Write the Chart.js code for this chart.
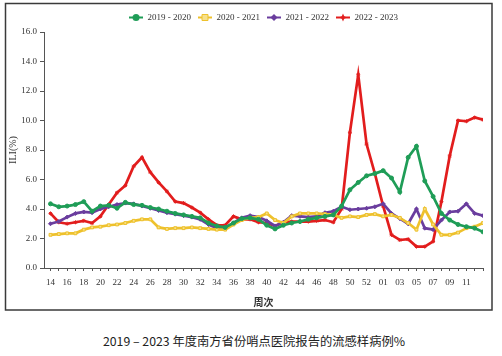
<!DOCTYPE html>
<html>
<head>
<meta charset="utf-8">
<script src="https://cdn.jsdelivr.net/npm/chart.js@4/dist/chart.umd.min.js"></script>
<style>
  html,body{margin:0;padding:0;background:#fff;}
  #wrap{position:relative;width:502px;height:356px;overflow:hidden;}
  #c{position:absolute;left:0;top:0;}
  #cap{position:absolute;left:3px;width:502px;top:333px;text-align:center;
       font-family:"Noto Sans CJK SC","Noto Sans",sans-serif;font-size:12.3px;color:#222;line-height:16px;}
</style>
</head>
<body>
<div id="wrap">
  <canvas id="c" width="502" height="316"></canvas>
  <div id="cap">2019 – 2023 年度南方省份哨点医院报告的流感样病例%</div>
</div>
<script>
// Week labels (season runs week 14 to week 13 of next year)
const weeks = ['14','15','16','17','18','19','20','21','22','23','24','25','26','27','28','29','30','31','32','33',
  '34','35','36','37','38','39','40','41','42','43','44','45','46','47','48','49','50','51','52','53',
  '01','02','03','04','05','06','07','08','09','10','11','12','13'];

const seriesNames = ['2019 - 2020','2020 - 2021','2021 - 2022','2022 - 2023'];

const s2019 = [4.35,4.15,4.2,4.3,4.5,3.85,4.2,4.25,4.05,4.45,4.3,4.25,4.1,4.0,3.85,3.7,3.6,3.5,3.4,3.05,
  2.85,2.75,3.05,3.35,3.4,3.3,2.9,2.65,2.9,3.05,3.15,3.3,3.4,3.5,3.6,4.2,5.3,5.8,6.25,6.4,
  6.6,6.1,5.15,7.5,8.25,5.9,4.85,3.7,3.25,2.95,2.8,2.7,2.45];

const s2020 = [2.25,2.3,2.35,2.35,2.6,2.75,2.8,2.9,2.95,3.05,3.2,3.3,3.3,2.75,2.65,2.7,2.7,2.75,2.7,2.65,
  2.6,2.6,2.95,3.25,3.4,3.45,3.7,3.25,3.05,3.5,3.7,3.7,3.7,3.65,3.6,3.4,3.5,3.45,3.6,3.65,
  3.5,3.6,3.4,3.05,2.6,4.0,2.95,2.25,2.25,2.4,2.7,2.8,3.05];

const s2021 = [3.0,3.15,3.45,3.7,3.8,3.75,4.0,4.15,4.3,4.4,4.35,4.2,4.05,3.9,3.75,3.65,3.55,3.45,3.3,2.95,
  2.7,2.7,3.05,3.4,3.55,3.45,3.2,2.85,3.1,3.55,3.5,3.45,3.5,3.75,3.85,4.15,3.95,4.0,4.05,4.15,
  4.35,3.7,3.35,3.0,4.0,2.7,2.6,3.25,3.8,3.85,4.35,3.7,3.55];

const s2022 = [3.7,3.1,3.0,3.1,3.2,3.05,3.5,4.3,5.1,5.6,6.9,7.5,6.5,5.8,5.2,4.5,4.4,4.1,3.75,3.3,
  2.9,2.9,3.5,3.3,3.3,3.1,3.05,2.85,3.1,3.15,3.15,3.15,3.2,3.25,3.1,4.0,9.2,13.1,8.4,6.4,
  4.2,2.25,1.9,1.95,1.45,1.45,1.8,4.5,7.6,10.0,9.95,10.2,10.05];

const yTicks = [0,2,4,6,8,10,12,14,16];

const colors = ['#1f9d57','#eec12c','#6a3d9e','#e21d1d'];
const fills  = ['#1f9d57','#f6e08c','#6a3d9e','#e21d1d'];
const styles = ['circle','rect','rectRot','star'];
const allData = [s2019,s2020,s2021,s2022];

function legendIcon(i){
  const cv = document.createElement('canvas');
  cv.width = 14; cv.height = 9;
  const g = cv.getContext('2d');
  g.strokeStyle = colors[i]; g.lineWidth = 2;
  g.beginPath(); g.moveTo(0,4.5); g.lineTo(14,4.5); g.stroke();
  g.fillStyle = fills[i]; g.strokeStyle = colors[i]; g.lineWidth = 1;
  const cx = 7, cy = 4.5;
  g.beginPath();
  if (i===0){ g.arc(cx,cy,3.5,0,Math.PI*2); g.fill(); }
  else if (i===1){ g.rect(cx-3,cy-3,6,6); g.fill(); g.stroke(); }
  else if (i===2){ g.moveTo(cx,cy-3.5); g.lineTo(cx+3.5,cy); g.lineTo(cx,cy+3.5); g.lineTo(cx-3.5,cy); g.closePath(); g.fill(); }
  else { g.moveTo(cx,cy-4); g.lineTo(cx+1.2,cy-1.2); g.lineTo(cx+4,cy); g.lineTo(cx+1.2,cy+1.2); g.lineTo(cx,cy+4);
         g.lineTo(cx-1.2,cy+1.2); g.lineTo(cx-4,cy); g.lineTo(cx-1.2,cy-1.2); g.closePath(); g.fill(); }
  return cv;
}
const icons = [0,1,2,3].map(legendIcon);

const datasets = allData.map((arr,i)=>({
  label: seriesNames[i],
  data: arr.map((v,k)=>({x:k,y:v})),
  borderColor: colors[i],
  backgroundColor: fills[i],
  pointBackgroundColor: fills[i],
  pointBorderColor: colors[i],
  pointStyle: styles[i],
  pointRadius: 2,
  pointBorderWidth: 1,
  borderWidth: 2.7,
  tension: 0,
  fill: false
}));

const serif = "'Liberation Serif','DejaVu Serif',serif";

const framePlugin = {
  id:'frame',
  afterDraw(chart){
    const c = chart.ctx;
    c.save();
    c.strokeStyle = '#3a3a3a'; c.lineWidth = 1.5;
    c.strokeRect(5.5,3.5,486.5,306.5);
    c.restore();
  }
};

new Chart(document.getElementById('c'), {
  type:'line',
  data:{ datasets },
  options:{
    responsive:false,
    animation:false,
    layout:{ padding:{ left:5, right:19, top:6, bottom:8 } },
    plugins:{
      tooltip:{enabled:false},
      legend:{
        display:true,
        position:'top',
        fullSize:false,
        labels:{
          usePointStyle:true,
          pointStyleWidth:14,
          boxHeight:9,
          padding:7,
          color:'#333',
          font:{family:serif,size:9},
          generateLabels(chart){
            return chart.data.datasets.map((d,i)=>({
              text:d.label, pointStyle:icons[i], fillStyle:fills[i], strokeStyle:colors[i],
              lineWidth:0, hidden:false, datasetIndex:i, fontColor:'#333'
            }));
          }
        }
      }
    },
    scales:{
      x:{
        type:'linear',
        min:-0.78, max:52,
        afterFit(s){ s.height = 40; },
        border:{display:true,color:'#555',width:1},
        grid:{display:true,drawOnChartArea:false,drawTicks:true,tickLength:3,color:'#555'},
        ticks:{
          stepSize:1, includeBounds:false, autoSkip:false, maxRotation:0, padding:6,
          color:'#333', font:{family:serif,size:9},
          callback(v){ return (Number.isInteger(v) && v%2===0 && v<=50) ? weeks[v] : ''; }
        },
        title:{display:true,text:'周次',color:'#333',padding:{top:1,bottom:0},
               font:{family:"'Noto Sans CJK SC',sans-serif",size:10,weight:'bold'}}
      },
      y:{
        min:0,max:16,
        afterFit(s){ s.width = 39; },
        afterBuildTicks(s){ s.ticks = yTicks.map(v=>({value:v})); },
        border:{display:true,color:'#555',width:1},
        grid:{display:true,drawOnChartArea:false,drawTicks:true,tickLength:4,color:'#555'},
        ticks:{ color:'#333', padding:3, font:{family:serif,size:9},
          callback(v){ return Number(v).toFixed(1); } },
        title:{display:true,text:'ILI(%)',color:'#333',padding:{top:2,bottom:2},
               font:{family:serif,size:10}}
      }
    }
  },
  plugins:[framePlugin]
});
</script>
</body>
</html>
